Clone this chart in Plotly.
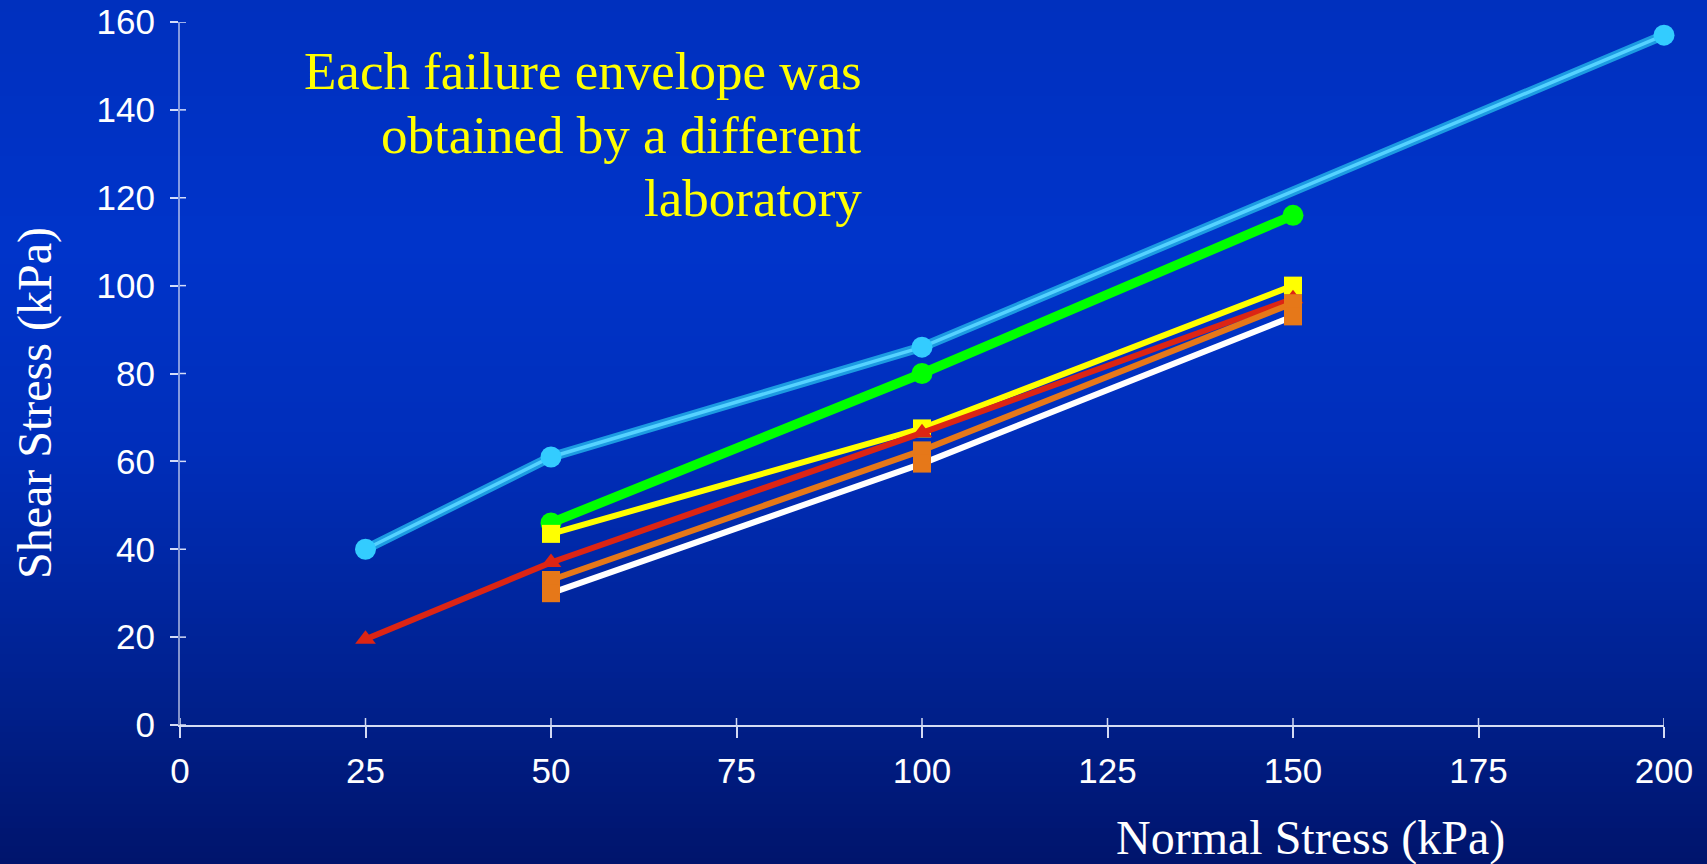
import plotly.graph_objects as go

# ---- data ----
normal_blue = [25, 50, 100, 200]
shear_blue = [40, 61, 86, 157]

normal_lab = [50, 100, 150]
shear_green = [46, 80, 116]
shear_yellow = [43.5, 67.5, 100]
shear_orange = [33, 62.5, 96]
shear_white = [30, 59.5, 93]

normal_red = [25, 50, 100, 150]
shear_red = [19.5, 37, 66.5, 97]

x_ticks = [0, 25, 50, 75, 100, 125, 150, 175, 200]
y_ticks = [0, 20, 40, 60, 80, 100, 120, 140, 160]

note_lines = ["Each failure envelope was", "obtained by a different", "laboratory"]
x_title = "Normal Stress (kPa)"
y_title = "Shear Stress (kPa)"

# ---- layout geometry (pixels) ----
FW, FH = 1707, 864
L, R, T, B = 180, 43, 22, 139
PW, PH = FW - L - R, FH - T - B


def pxx(x):
    return (x - L) / PW


def pxy(y):
    return (FH - B - y) / PH


fig = go.Figure()

# light blue: double line effect
fig.add_trace(go.Scatter(x=normal_blue, y=shear_blue, mode="lines",
                         line=dict(color="#1C9BE2", width=9.5), hoverinfo="skip",
                         showlegend=False, cliponaxis=False))
fig.add_trace(go.Scatter(x=normal_blue, y=shear_blue, mode="lines+markers",
                         line=dict(color="#55D2FF", width=3.5),
                         marker=dict(color="#33CCFF", size=21, symbol="circle"),
                         showlegend=False, cliponaxis=False))
fig.add_trace(go.Scatter(x=normal_lab, y=shear_green, mode="lines+markers",
                         line=dict(color="#00FF00", width=9.5),
                         marker=dict(color="#00FF00", size=21, symbol="circle"),
                         showlegend=False, cliponaxis=False))
fig.add_trace(go.Scatter(x=normal_lab, y=shear_yellow, mode="lines+markers",
                         line=dict(color="#FFFF00", width=6),
                         marker=dict(color="#FFFF00", size=18, symbol="square"),
                         showlegend=False, cliponaxis=False))
fig.add_trace(go.Scatter(x=normal_red, y=shear_red, mode="lines+markers",
                         line=dict(color="#DC2514", width=6),
                         marker=dict(color="#DC2514", size=18, symbol="triangle-up"),
                         showlegend=False, cliponaxis=False))
fig.add_trace(go.Scatter(x=normal_lab, y=shear_orange, mode="lines+markers",
                         line=dict(color="#E67819", width=6),
                         marker=dict(color="#E67819", size=18, symbol="square"),
                         showlegend=False, cliponaxis=False))
fig.add_trace(go.Scatter(x=normal_lab, y=shear_white, mode="lines+markers",
                         line=dict(color="#FFFFFF", width=6),
                         marker=dict(color="#E67819", size=18, symbol="square"),
                         showlegend=False, cliponaxis=False))

# background gradient via thin paper rectangles
stops = [(0, (0, 48, 190)), (250, (0, 52, 202)), (450, (0, 46, 186)),
         (700, (0, 32, 140)), (864, (0, 20, 108))]


def col_at(y):
    for (y0, c0), (y1, c1) in zip(stops[:-1], stops[1:]):
        if y0 <= y <= y1:
            t = (y - y0) / (y1 - y0)
            return tuple(round(a + (b - a) * t) for a, b in zip(c0, c1))
    return stops[-1][1]


shapes = []
step = 6
for y in range(0, FH, step):
    c = col_at(y + step / 2)
    shapes.append(dict(type="rect", xref="paper", yref="paper", layer="below",
                       x0=pxx(0), x1=pxx(FW), y0=pxy(y + step + 1), y1=pxy(y),
                       line=dict(width=0), fillcolor="rgb(%d,%d,%d)" % c))

# inner halves of the crossing tick marks
tick_col = "rgba(235,240,255,0.9)"
for xv in x_ticks:
    shapes.append(dict(type="line", xref="x", yref="paper", layer="above",
                       x0=xv, x1=xv, y0=0, y1=7 / PH,
                       line=dict(color=tick_col, width=1.5)))
for yv in y_ticks:
    shapes.append(dict(type="line", xref="paper", yref="y", layer="above",
                       x0=0, x1=6 / PW, y0=yv, y1=yv,
                       line=dict(color=tick_col, width=1.5)))

annotations = []
for i, line in enumerate(note_lines):
    annotations.append(dict(text=line, xref="paper", yref="paper",
                            x=pxx(864), y=pxy(71 + 63.5 * i), xanchor="right", yanchor="middle",
                            showarrow=False,
                            font=dict(family="Liberation Serif, Times New Roman, serif",
                                      size=53, color="#FFFF00")))
annotations.append(dict(text=x_title, xref="paper", yref="paper",
                        x=pxx(1310), y=pxy(838), xanchor="center", yanchor="middle",
                        showarrow=False,
                        font=dict(family="Liberation Serif, Times New Roman, serif",
                                  size=48, color="#FFFFFF")))
annotations.append(dict(text=y_title, xref="paper", yref="paper", textangle=-90,
                        x=pxx(35), y=pxy(403), xanchor="center", yanchor="middle",
                        showarrow=False,
                        font=dict(family="Liberation Serif, Times New Roman, serif",
                                  size=48, color="#FFFFFF")))

tickfont = dict(family="Liberation Sans, Arial, sans-serif", size=35, color="#FFFFFF")

fig.update_layout(
    width=FW, height=FH, autosize=False,
    margin=dict(l=L, r=R, t=T, b=B, pad=0, autoexpand=False),
    paper_bgcolor="rgb(0,46,186)", plot_bgcolor="rgba(0,0,0,0)",
    shapes=shapes, annotations=annotations, showlegend=False,
    xaxis=dict(range=[0, 200], tickvals=x_ticks, ticktext=[str(v) for v in x_ticks],
               showgrid=False, zeroline=False, showline=True, automargin=False,
               linecolor="rgba(235,240,255,0.9)", linewidth=2,
               ticks="outside", ticklen=11, tickwidth=1.5, tickcolor=tick_col,
               tickfont=tickfont, ticklabelstandoff=3, fixedrange=True),
    yaxis=dict(range=[0, 160], tickvals=y_ticks, ticktext=[str(v) for v in y_ticks],
               showgrid=False, zeroline=False, showline=True, automargin=False,
               linecolor="rgba(220,225,245,0.6)", linewidth=2,
               ticks="outside", ticklen=8, tickwidth=1.5, tickcolor=tick_col,
               tickfont=tickfont, ticklabelstandoff=8, fixedrange=True),
)

fig.write_html("out.html", config={"displayModeBar": False},
               post_script="document.body.style.margin='0';document.body.style.overflow='hidden';")
